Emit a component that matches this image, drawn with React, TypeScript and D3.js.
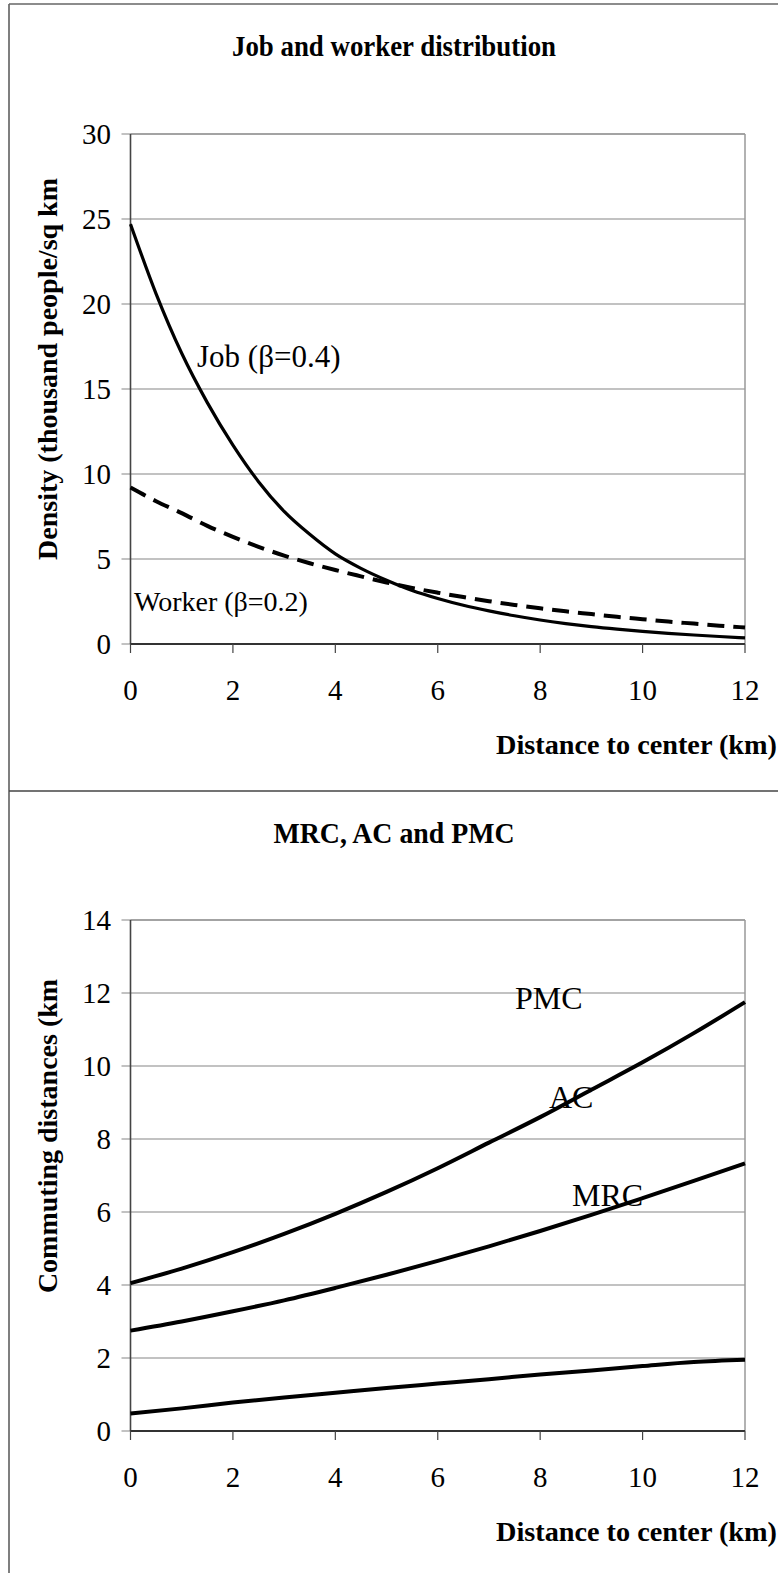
import React from 'react';
import * as d3 from 'd3';

// ---------- data ----------
const distanceTicks = [0, 2, 4, 6, 8, 10, 12];
const densityTicks = [0, 5, 10, 15, 20, 25, 30];
const commuteTicks = [0, 2, 4, 6, 8, 10, 12, 14];

const densityX = [0, 0.5, 1, 1.5, 2, 2.5, 3, 3.5, 4, 4.5, 5, 5.5, 6, 6.5, 7, 7.5, 8, 8.5, 9, 9.5, 10, 10.5, 11, 11.5, 12];
const jobDensity = [24.7, 20.6, 17.1, 14.2, 11.7, 9.55, 7.8, 6.45, 5.3, 4.45, 3.75, 3.15, 2.68, 2.28, 1.95, 1.66, 1.41, 1.2, 1.02, 0.87, 0.74, 0.63, 0.53, 0.44, 0.36];
const workerDensity = [9.2, 8.4, 7.7, 6.95, 6.3, 5.72, 5.2, 4.75, 4.35, 3.98, 3.62, 3.3, 3.02, 2.76, 2.52, 2.3, 2.1, 1.92, 1.76, 1.6, 1.46, 1.32, 1.2, 1.08, 0.97];

const commuteX = [0, 1, 2, 3, 4, 5, 6, 7, 8, 9, 10, 11, 12];
const pmcValues = [4.05, 4.45, 4.9, 5.4, 5.95, 6.55, 7.2, 7.9, 8.6, 9.35, 10.1, 10.9, 11.75];
const acValues = [2.75, 3.0, 3.28, 3.58, 3.92, 4.28, 4.66, 5.06, 5.48, 5.92, 6.38, 6.85, 7.33];
const mrcValues = [0.48, 0.62, 0.78, 0.92, 1.05, 1.18, 1.3, 1.42, 1.55, 1.66, 1.78, 1.89, 1.95];

const SERIF = '"Liberation Serif", "Times New Roman", Times, serif';

type Series = { xs: number[]; ys: number[]; width: number; dash?: string };
type Label = { text: string; x: number; y: number; size: number };

type PanelProps = {
  title: string;
  titleY: number;
  titleLen: number;
  yLabel: string;
  yLabelCenter: number;
  yDomain: [number, number];
  yTicks: number[];
  top: number;
  bottom: number;
  series: Series[];
  labels: Label[];
};

const LEFT = 130.5;
const RIGHT = 745;

function Panel(p: PanelProps) {
  const x = d3.scaleLinear().domain([0, 12]).range([LEFT, RIGHT]);
  const y = d3.scaleLinear().domain(p.yDomain).range([p.bottom, p.top]);
  const line = d3
    .line<[number, number]>()
    .x((d) => x(d[0]))
    .y((d) => y(d[1]))
    .curve(d3.curveMonotoneX);

  return (
    <g>
      <text
        x={394}
        y={p.titleY}
        textAnchor="middle"
        fontFamily={SERIF}
        fontWeight="bold"
        fontSize={29}
        textLength={p.titleLen}
        lengthAdjust="spacingAndGlyphs"
      >
        {p.title}
      </text>

      {/* gridlines */}
      {p.yTicks.map((t) => (
        <line key={'g' + t} x1={LEFT - 9} x2={RIGHT} y1={y(t)} y2={y(t)} stroke="#858585" strokeWidth={1.2} />
      ))}
      {/* frame right / top */}
      <line x1={RIGHT} x2={RIGHT} y1={p.top} y2={p.bottom} stroke="#999" strokeWidth={1.5} />
      <line x1={LEFT} x2={RIGHT} y1={p.top} y2={p.top} stroke="#999" strokeWidth={1.5} />
      {/* y axis */}
      <line x1={LEFT} x2={LEFT} y1={p.top} y2={p.bottom} stroke="#444" strokeWidth={1.6} />
      {/* x axis */}
      <line x1={LEFT} x2={RIGHT} y1={p.bottom} y2={p.bottom} stroke="#333" strokeWidth={2} />
      {distanceTicks.map((t) => (
        <line key={'xt' + t} x1={x(t)} x2={x(t)} y1={p.bottom} y2={p.bottom + 9} stroke="#444" strokeWidth={1.2} />
      ))}

      {/* y tick labels */}
      {p.yTicks.map((t) => (
        <text key={'yl' + t} x={111} y={y(t) + 10} textAnchor="end" fontFamily={SERIF} fontSize={29}>
          {t}
        </text>
      ))}
      {/* x tick labels */}
      {distanceTicks.map((t) => (
        <text key={'xl' + t} x={x(t)} y={p.bottom + 56} textAnchor="middle" fontFamily={SERIF} fontSize={29}>
          {t}
        </text>
      ))}

      <text
        x={777}
        y={p.bottom + 110}
        textAnchor="end"
        fontFamily={SERIF}
        fontWeight="bold"
        fontSize={28}
        textLength={281}
        lengthAdjust="spacingAndGlyphs"
      >
        Distance to center (km)
      </text>

      <text
        transform={`translate(57,${p.yLabelCenter}) rotate(-90)`}
        textAnchor="middle"
        fontFamily={SERIF}
        fontWeight="bold"
        fontSize={28}
      >
        {p.yLabel}
      </text>

      {p.series.map((s, i) => (
        <path
          key={'s' + i}
          d={line(s.xs.map((v, j) => [v, s.ys[j]] as [number, number])) || ''}
          fill="none"
          stroke="#000"
          strokeWidth={s.width}
          strokeDasharray={s.dash}
          strokeLinejoin="round"
        />
      ))}

      {p.labels.map((l, i) => (
        <text key={'l' + i} x={l.x} y={l.y} fontFamily={SERIF} fontSize={l.size}>
          {l.text}
        </text>
      ))}
    </g>
  );
}

export default function App() {
  return (
    <svg
      width={778}
      height={1573}
      viewBox="0 0 778 1573"
      style={{ position: 'absolute', left: 0, top: 0, background: '#fff' }}
    >
      <rect x={0} y={0} width={778} height={1573} fill="#fff" />
      {/* page frame */}
      <line x1={9} x2={9} y1={4} y2={1573} stroke="#555" strokeWidth={1.5} />
      <line x1={9} x2={778} y1={4} y2={4} stroke="#666" strokeWidth={1.5} />
      <line x1={9} x2={778} y1={791} y2={791} stroke="#444" strokeWidth={1.5} />

      <Panel
        title="Job and worker distribution"
        titleY={56}
        titleLen={324}
        yLabel="Density (thousand people/sq km"
        yLabelCenter={369}
        yDomain={[0, 30]}
        yTicks={densityTicks}
        top={134}
        bottom={644}
        series={[
          { xs: densityX, ys: jobDensity, width: 3.2 },
          { xs: densityX, ys: workerDensity, width: 4, dash: '17,9' },
        ]}
        labels={[
          { text: 'Job (β=0.4)', x: 197, y: 367, size: 31 },
          { text: 'Worker (β=0.2)', x: 134, y: 611, size: 28 },
        ]}
      />

      <Panel
        title="MRC, AC and PMC"
        titleY={843}
        titleLen={241}
        yLabel="Commuting distances (km"
        yLabelCenter={1136}
        yDomain={[0, 14]}
        yTicks={commuteTicks}
        top={920}
        bottom={1431}
        series={[
          { xs: commuteX, ys: pmcValues, width: 4 },
          { xs: commuteX, ys: acValues, width: 4 },
          { xs: commuteX, ys: mrcValues, width: 4 },
        ]}
        labels={[
          { text: 'PMC', x: 515, y: 1009, size: 32 },
          { text: 'AC', x: 549, y: 1108, size: 32 },
          { text: 'MRC', x: 572, y: 1206, size: 32 },
        ]}
      />
    </svg>
  );
}
